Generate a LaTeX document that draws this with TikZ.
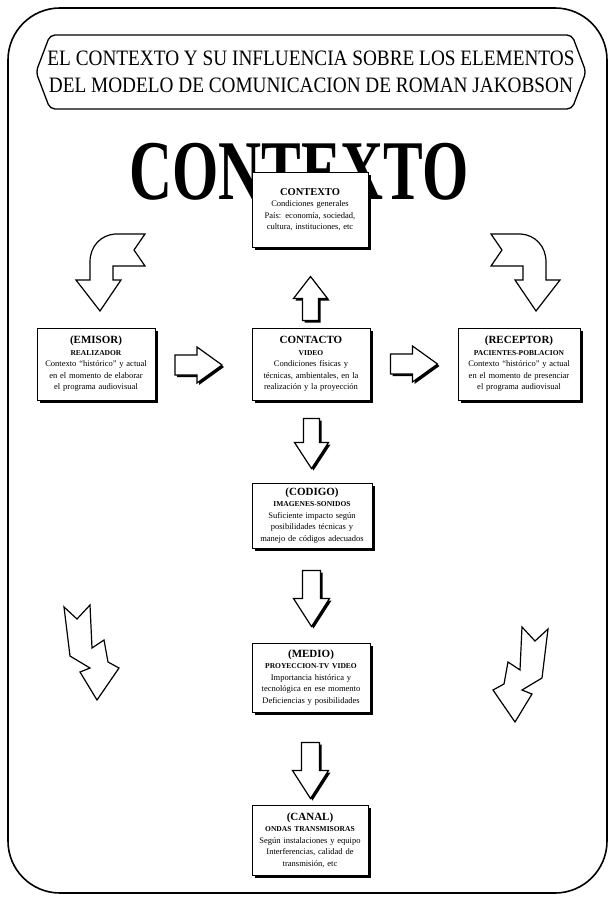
\documentclass[tikz,border=0pt]{standalone}
\usepackage{fontspec}
\setmainfont{Liberation Serif}
\usetikzlibrary{calc,shadows}
\begin{document}
\begin{tikzpicture}[x=1pt,y=-1pt,
  frame/.style={line width=1.6pt, rounded corners=52pt},
  titlebox/.style={line width=1.3pt, rounded corners=5pt},
  box/.style={draw, line width=1pt, fill=white, align=center, inner sep=2pt,
    font=\fontsize{8.5}{11.5}\selectfont,
    drop shadow={shadow xshift=2.5pt, shadow yshift=-2.5pt, opacity=1, fill=black}},
  head/.style={font=\fontsize{11}{12}\selectfont\bfseries},
  blockarrow/.style={draw, line width=1.2pt, fill=white, line join=miter},
  arrowshadow/.style={fill=black, shift={(2,2)}},
]
\useasboundingbox (0,0) rectangle (613,899);

% outer frame
\draw[frame] (8,8) rectangle (607,893);

% title
\draw[titlebox, fill=white] (36,72) -- (50,35) -- (572,35) -- (586,72) -- (572,109) -- (50,109) -- cycle;
\node[align=center, font=\fontsize{22}{27}\selectfont] (title) at (311,72)
  {\scalebox{0.875}[1]{EL CONTEXTO Y SU INFLUENCIA SOBRE LOS ELEMENTOS}\\
   \scalebox{0.875}[1]{DEL MODELO DE COMUNICACION DE ROMAN JAKOBSON}};

% big word
\node[anchor=base, inner sep=0pt, font=\fontsize{85}{85}\selectfont\bfseries] (big) at (299,199)
  {\scalebox{0.70}[1]{CONTEXTO}};

% boxes
\node[box, text width=112pt, minimum height=75pt] (ctx) at (310,209.5)
  {{\fontsize{10.5}{12}\selectfont\bfseries CONTEXTO}\\
   Condiciones generales\\ País: economía, sociedad,\\ cultura, instituciones, etc};
\node[box, text width=114pt, minimum height=72pt] (contacto) at (311,364)
  {{\fontsize{11}{12}\selectfont\bfseries CONTACTO}\\
   {\fontsize{7.5}{10}\selectfont\bfseries VIDEO}\\
   Condiciones físicas y\\ técnicas, ambientales, en la\\ realización y la proyección};
\node[box, text width=114pt, minimum height=72pt] (emisor) at (96,364)
  {{\fontsize{11}{12}\selectfont\bfseries (EMISOR)}\\
   {\fontsize{7.5}{10}\selectfont\bfseries REALIZADOR}\\
   Contexto “histórico” y actual\\ en el momento de elaborar\\ el programa audiovisual};
\node[box, text width=118pt, minimum height=72pt] (receptor) at (519,364)
  {{\fontsize{11}{12}\selectfont\bfseries (RECEPTOR)}\\
   {\fontsize{7.5}{10}\selectfont\bfseries PACIENTES-POBLACION}\\
   Contexto “histórico” y actual\\ en el momento de presenciar\\ el programa audiovisual};
\node[box, text width=116pt, minimum height=65pt] (codigo) at (312,515.5)
  {{\fontsize{11}{12}\selectfont\bfseries (CODIGO)}\\
   {\fontsize{7.5}{10}\selectfont\bfseries IMAGENES-SONIDOS}\\
   Suficiente impacto según\\ posibilidades técnicas y\\ manejo de códigos adecuados};
\node[box, text width=114pt, minimum height=69pt] (medio) at (311,677.5)
  {{\fontsize{11}{12}\selectfont\bfseries (MEDIO)}\\
   {\fontsize{7.5}{10}\selectfont\bfseries PROYECCION-TV VIDEO}\\
   Importancia histórica y\\ tecnológica en ese momento\\ Deficiencias y posibilidades};
\node[box, text width=112pt, minimum height=70pt] (canal) at (310,840)
  {{\fontsize{11}{12}\selectfont\bfseries (CANAL)}\\
   {\fontsize{7.5}{10}\selectfont\bfseries ONDAS TRANSMISORAS}\\
   Según instalaciones y equipo\\ Interferencias, calidad de\\ transmisión, etc};

% block arrows between boxes
\def\rpath{(-23.5,-10) -- (-1.5,-10) -- (-1.5,-18) -- (23.5,0) -- (-1.5,18) -- (-1.5,10) -- (-23.5,10) -- cycle}
\def\dpath{(-8,-25) -- (8,-25) -- (8,-1) -- (17,-1) -- (0,25) -- (-17,-1) -- (-8,-1) -- cycle}
\def\Dpath{(-9,-28) -- (9,-28) -- (9,0) -- (18,0) -- (0,28) -- (-18,0) -- (-9,0) -- cycle}
\def\upath{(-8,22) -- (8,22) -- (8,0) -- (17,0) -- (0,-22) -- (-17,0) -- (-8,0) -- cycle}

\coordinate (r1) at ($($(emisor.east)!0.5!(contacto.west)$)+(-5,1)$);
\coordinate (r2) at ($(contacto.east)!0.5!(receptor.west)$);
\coordinate (u1) at ($($(ctx.south)!0.5!(contacto.north)$)+(0,11)$);
\coordinate (d1) at ($($(contacto.south)!0.5!(codigo.north)$)+(0,2)$);
\coordinate (d2) at ($($(codigo.south)!0.5!(medio.north)$)+(0,3)$);
\coordinate (d3) at ($($(medio.south)!0.5!(canal.north)$)+(0,12)$);

\begin{scope}[shift={(r1)}]\fill[arrowshadow] \rpath; \draw[blockarrow] \rpath;\end{scope}
\begin{scope}[shift={(r2)}]\fill[arrowshadow] \rpath; \draw[blockarrow] \rpath;\end{scope}
\begin{scope}[shift={(u1)}]\fill[arrowshadow] \upath; \draw[blockarrow] \upath;\end{scope}
\begin{scope}[shift={(d1)}]\fill[arrowshadow] \dpath; \draw[blockarrow] \dpath;\end{scope}
\begin{scope}[shift={(d2)}]\fill[arrowshadow] \Dpath; \draw[blockarrow] \Dpath;\end{scope}
\begin{scope}[shift={(d3)}]\fill[arrowshadow] \Dpath; \draw[blockarrow] \Dpath;\end{scope}

% curved context arrows (top)
\draw[blockarrow] (90,280) -- (90,262) .. controls (90,246) and (101,235) .. (115,234)
  -- (145,234) -- (134,250) -- (145,266) -- (113,266) -- (113,280) -- (121,280)
  -- (100,311) -- (76,280) -- cycle;
\draw[blockarrow] (546,280) -- (546,262) .. controls (546,246) and (535,235) .. (521,234)
  -- (491,234) -- (502,250) -- (491,266) -- (523,266) -- (523,280) -- (515,280)
  -- (536,311) -- (560,280) -- cycle;

% zigzag context arrows (bottom)
\draw[blockarrow] (64,607) -- (77,619) -- (90,605) -- (92,648) -- (104,640) -- (108,662)
  -- (119,668) -- (97,700) -- (80,672) -- (90,668) -- (70,656) -- cycle;
\draw[blockarrow] (548,629) -- (535,641) -- (522,627) -- (520,670) -- (508,662) -- (504,684)
  -- (493,690) -- (515,722) -- (532,694) -- (522,690) -- (542,678) -- cycle;
\end{tikzpicture}
\end{document}
